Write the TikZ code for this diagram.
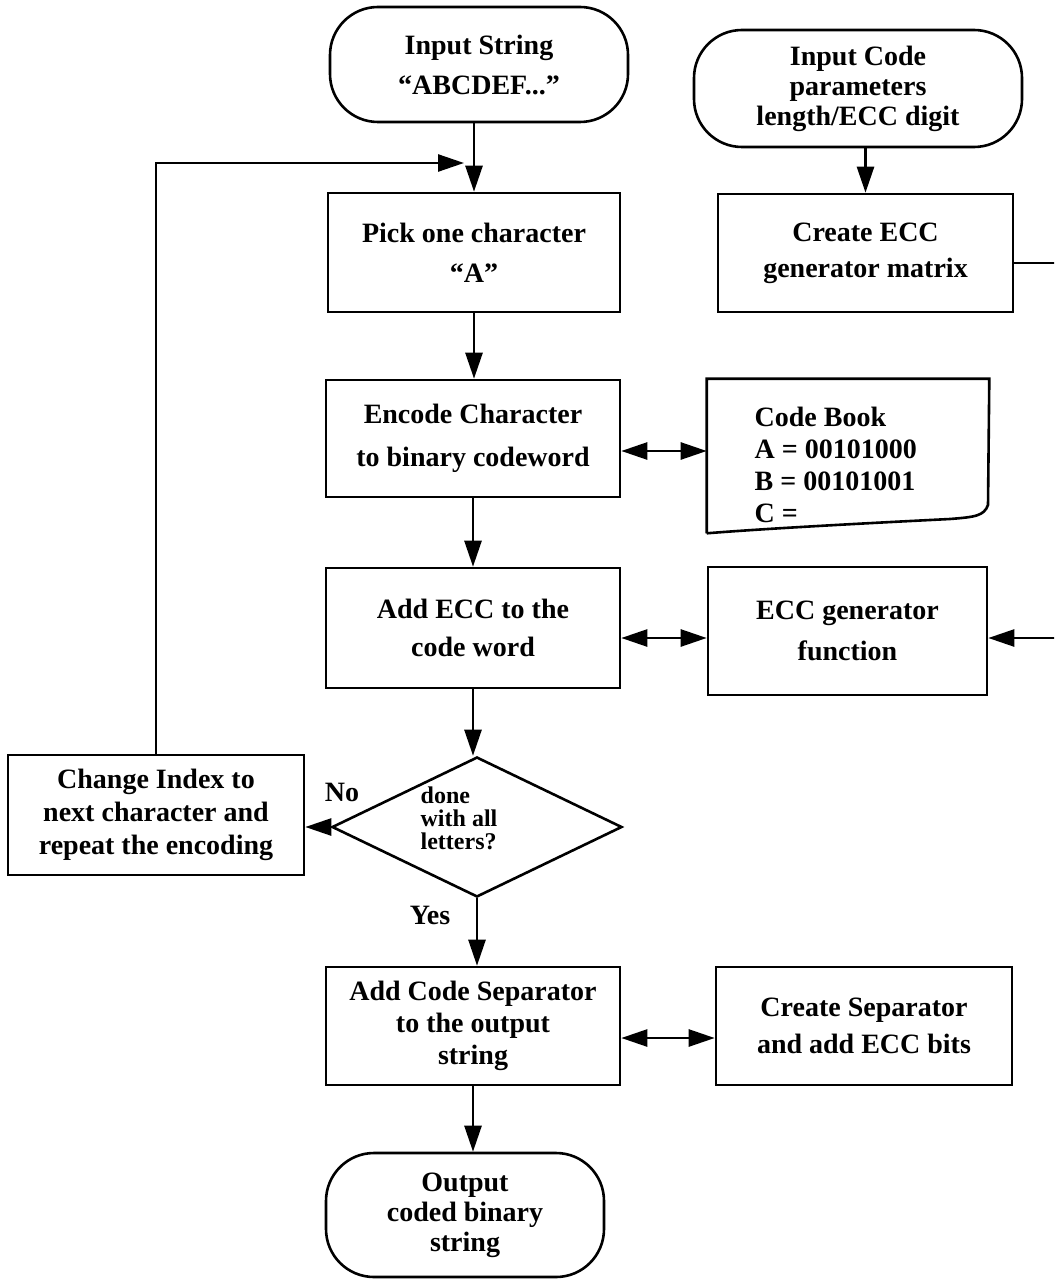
\documentclass[tikz,border=0pt]{standalone}
\usepackage{fontspec}
\setmainfont{Liberation Serif}
\usetikzlibrary{arrows.meta,shapes.geometric}
\begin{document}
\begin{tikzpicture}[x=1pt,y=-1pt,
  line width=2.6pt,
  txt/.style={font=\fontsize{28}{#1}\selectfont\bfseries, align=center},
  box/.style={draw, rectangle, inner sep=0pt, align=center},
  term/.style={draw, rectangle, rounded corners=48pt, inner sep=0pt, align=center},
  arr/.style={-{Triangle[length=26pt,width=17pt]}},
  dbl/.style={{Triangle[length=26pt,width=17pt]}-{Triangle[length=26pt,width=17pt]}}]

\useasboundingbox (0,0) rectangle (1054,1281);
\fill[white] (0,0) rectangle (1054,1281);
\clip (0,0) rectangle (1054,1281);

% main column
\node[term, txt=40, minimum width=298pt, minimum height=115pt] (instr) at (479,64.5) {Input String\\“ABCDEF...”};
\node[box, txt=40, minimum width=292pt, minimum height=119pt] (pick) at (474,252.5) {Pick one character\\“A”};
\node[box, txt=43, minimum width=294pt, minimum height=117pt] (enc) at (473,438.5) {Encode Character\\to binary codeword};
\node[box, txt=38, minimum width=294pt, minimum height=120pt] (addecc) at (473,628) {Add ECC to the\\code word};
\node[diamond, draw, aspect=2, inner sep=0pt, minimum width=290pt, minimum height=140pt,
      font=\fontsize{24}{22}\selectfont\bfseries] (dec) at (477,827)
      {\begin{tabular}{@{}l@{\hspace{36pt}}}done\\with all\\letters?\rule[-18pt]{0pt}{0pt}\end{tabular}};
\node[box, txt=32, minimum width=294pt, minimum height=118pt] (sep) at (473,1026) {Add Code Separator\\to the output\\string};
\node[term, txt=30, minimum width=278pt, minimum height=124pt] (out) at (465,1215) {Output\\coded binary\\string};

% side blocks
\node[term, txt=30, minimum width=328pt, minimum height=117pt] (incode) at (858,88.5) {Input Code\\parameters\\length/ECC digit};
\node[box, txt=36, minimum width=295pt, minimum height=118pt] (mat) at (865.5,253) {Create ECC\\generator matrix};
\node[minimum width=280pt, minimum height=152pt, inner sep=0pt] (book) at (848,456) {};
\node[anchor=west, txt=32, align=left] (booktxt) at (750,465) {Code Book\\A = 00101000\\B = 00101001\\C =};
\node[box, txt=41, minimum width=279pt, minimum height=128pt] (func) at (847.5,631) {ECC generator\\function};
\node[box, txt=33, minimum width=296pt, minimum height=120pt] (chg) at (156,815) {Change Index to\\next character and\\repeat the encoding};
\node[box, txt=37, minimum width=296pt, minimum height=118pt] (mksep) at (864,1026) {Create Separator\\and add ECC bits};

% document outline of the code book
\draw (book.south west) -- (book.north west) -- (book.north east) -- (988,505)
  .. controls (984,516) and (975,517) .. (950,519)
  .. controls (850,524) and (760,529) .. (book.south west);

% branch labels
\node[txt=30] (no) at (342,792) {No};
\node[txt=30] (yes) at (430,915) {Yes};

\coordinate (loopin) at (464,163);
\coordinate (rightrun) at (1075,263);

% flow
\draw[arr] (pick.north |- instr.south) -- (pick.north);
\draw[arr] (pick.south) -- (pick.south |- enc.north);
\draw[arr] (enc.south) -- (enc.south |- addecc.north);
\draw[arr] (addecc.south) -- (addecc.south |- dec.north);
\draw[arr] (dec.south) -- (dec.south |- sep.north);
\draw[arr] (sep.south) -- (sep.south |- out.north);
\draw[arr] (dec.west) -- (chg.east |- dec.west);
\draw[arr] (chg.north) |- (loopin);
\draw[arr] (mat.north |- incode.south) -- (mat.north);
\draw[arr] (mat.east |- rightrun) -- (rightrun) |- (func.east |- 0,638);

\draw[dbl] (enc.east |- 0,451) -- (book.west |- 0,451);
\draw[dbl] (addecc.east |- 0,638) -- (func.west |- 0,638);
\draw[dbl] (sep.east |- 0,1038) -- (mksep.west |- 0,1038);
\end{tikzpicture}
\end{document}
